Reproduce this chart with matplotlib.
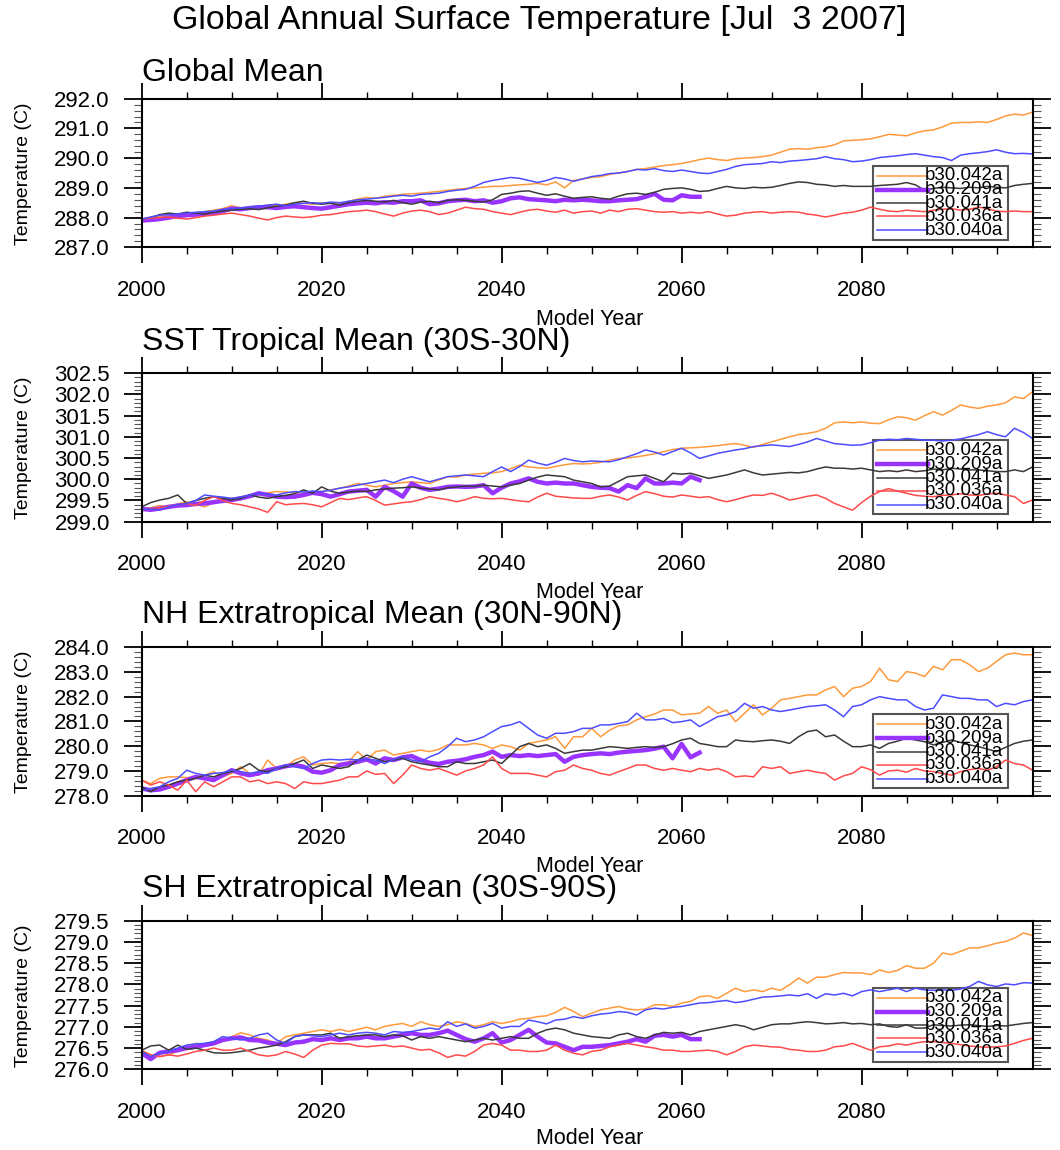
import numpy as np
import matplotlib
matplotlib.use("Agg")
import matplotlib.pyplot as plt
from matplotlib.ticker import MultipleLocator, FormatStrFormatter
from matplotlib.patches import Rectangle

plt.rcParams['font.family'] = ['Liberation Sans', 'DejaVu Sans']

years = np.arange(2000, 2100)
years_209 = np.arange(2000, 2063)

runs = ["b30.042a", "b30.209a", "b30.041a", "b30.036a", "b30.040a"]
colors = ["#ff9a3c", "#9933ff", "#3a3a3a", "#ff4a4a", "#4d4dff"]
widths = [1.1, 3.2, 1.1, 1.1, 1.1]

# ---- Global Mean ----
glob_042 = [287.95, 288.00, 288.05, 288.10, 288.08, 288.15, 288.12, 288.20, 288.25, 288.30,
            288.40, 288.33, 288.30, 288.38, 288.42, 288.40, 288.45, 288.50, 288.48, 288.45,
            288.50, 288.48, 288.45, 288.55, 288.62, 288.68, 288.65, 288.72, 288.75, 288.78,
            288.80, 288.82, 288.85, 288.88, 288.92, 288.95, 288.98, 289.00, 289.02, 289.05,
            289.05, 289.08, 289.10, 289.12, 289.15, 289.10, 289.20, 289.00, 289.25, 289.30,
            289.35, 289.38, 289.45, 289.50, 289.55, 289.62, 289.65, 289.70, 289.75, 289.78,
            289.82, 289.88, 289.95, 290.00, 289.95, 289.92, 289.98, 290.00, 290.02, 290.05,
            290.10, 290.20, 290.30, 290.32, 290.30, 290.35, 290.38, 290.45, 290.58, 290.60,
            290.62, 290.65, 290.72, 290.80, 290.78, 290.75, 290.85, 290.92, 290.95, 291.05,
            291.18, 291.20, 291.20, 291.22, 291.20, 291.30, 291.42, 291.48, 291.45, 291.55]
glob_209 = [287.90, 287.92, 287.95, 288.00, 288.05, 288.08, 288.10, 288.12, 288.15, 288.22,
            288.30, 288.28, 288.32, 288.35, 288.35, 288.32, 288.36, 288.38, 288.35, 288.32,
            288.30, 288.35, 288.40, 288.45, 288.48, 288.50, 288.48, 288.52, 288.50, 288.55,
            288.55, 288.58, 288.45, 288.48, 288.55, 288.58, 288.60, 288.55, 288.58, 288.50,
            288.55, 288.65, 288.68, 288.62, 288.60, 288.58, 288.55, 288.60, 288.58, 288.60,
            288.58, 288.55, 288.55, 288.58, 288.60, 288.62, 288.70, 288.80, 288.60, 288.58,
            288.75, 288.70, 288.70]
glob_041 = [287.95, 288.00, 288.10, 288.15, 288.12, 288.18, 288.15, 288.12, 288.18, 288.22,
            288.25, 288.28, 288.30, 288.27, 288.33, 288.38, 288.42, 288.50, 288.55, 288.48,
            288.45, 288.48, 288.42, 288.50, 288.55, 288.58, 288.55, 288.52, 288.58, 288.50,
            288.45, 288.52, 288.55, 288.50, 288.58, 288.60, 288.58, 288.55, 288.52, 288.60,
            288.78, 288.82, 288.88, 288.90, 288.82, 288.75, 288.80, 288.72, 288.65, 288.68,
            288.70, 288.65, 288.62, 288.72, 288.80, 288.82, 288.78, 288.85, 288.95, 288.98,
            289.00, 288.95, 288.88, 288.90, 288.98, 289.05, 289.00, 288.98, 289.02, 289.00,
            289.02, 289.08, 289.15, 289.20, 289.18, 289.12, 289.10, 289.05, 289.08, 289.05,
            289.05, 289.05, 289.08, 289.10, 289.12, 289.18, 289.10, 288.92, 288.98, 289.02,
            289.00, 288.98, 289.02, 289.00, 289.05, 289.02, 289.00, 289.08, 289.12, 289.15]
glob_036 = [287.95, 287.98, 288.00, 288.02, 287.98, 287.95, 288.00, 288.05, 288.08, 288.12,
            288.15, 288.10, 288.05, 287.98, 287.92, 288.00, 288.05, 288.02, 288.00, 288.03,
            288.08, 288.10, 288.15, 288.20, 288.22, 288.25, 288.20, 288.12, 288.05, 288.15,
            288.22, 288.25, 288.20, 288.10, 288.15, 288.25, 288.35, 288.30, 288.28, 288.20,
            288.15, 288.10, 288.18, 288.25, 288.28, 288.22, 288.18, 288.25, 288.15, 288.20,
            288.22, 288.15, 288.25, 288.20, 288.28, 288.30, 288.25, 288.20, 288.18, 288.20,
            288.15, 288.18, 288.15, 288.20, 288.12, 288.05, 288.08, 288.15, 288.18, 288.20,
            288.15, 288.18, 288.20, 288.18, 288.12, 288.08, 288.02, 288.08, 288.15, 288.18,
            288.25, 288.35, 288.28, 288.22, 288.20, 288.25, 288.22, 288.20, 288.25, 288.28,
            288.30, 288.25, 288.28, 288.35, 288.30, 288.22, 288.20, 288.22, 288.20, 288.20]
glob_040 = [287.95, 288.02, 288.08, 288.10, 288.12, 288.15, 288.18, 288.20, 288.22, 288.28,
            288.30, 288.32, 288.35, 288.38, 288.42, 288.45, 288.40, 288.45, 288.48, 288.50,
            288.48, 288.52, 288.50, 288.55, 288.60, 288.62, 288.65, 288.68, 288.72, 288.75,
            288.72, 288.78, 288.80, 288.82, 288.88, 288.92, 288.95, 289.05, 289.18, 289.25,
            289.30, 289.35, 289.32, 289.25, 289.18, 289.25, 289.35, 289.30, 289.22, 289.30,
            289.38, 289.42, 289.48, 289.50, 289.55, 289.62, 289.60, 289.65, 289.58, 289.55,
            289.60, 289.55, 289.50, 289.48, 289.55, 289.62, 289.72, 289.78, 289.80, 289.82,
            289.88, 289.85, 289.90, 289.92, 289.95, 289.98, 290.05, 289.98, 289.95, 289.88,
            289.90, 289.95, 290.02, 290.05, 290.08, 290.12, 290.15, 290.10, 290.05, 290.02,
            289.92, 290.10, 290.15, 290.18, 290.22, 290.28, 290.20, 290.15, 290.16, 290.14]

# ---- SST Tropical Mean ----
sst_042 = [299.30, 299.33, 299.38, 299.35, 299.42, 299.47, 299.42, 299.35, 299.45, 299.50,
           299.55, 299.58, 299.60, 299.63, 299.68, 299.71, 299.70, 299.68, 299.67, 299.70,
           299.71, 299.75, 299.79, 299.84, 299.90, 299.86, 299.82, 299.86, 299.90, 299.92,
           299.94, 299.92, 299.90, 299.98, 300.06, 300.05, 300.10, 300.12, 300.14, 300.15,
           300.18, 300.25, 300.33, 300.29, 300.27, 300.26, 300.30, 300.34, 300.37, 300.36,
           300.37, 300.40, 300.45, 300.49, 300.50, 300.53, 300.56, 300.60, 300.65, 300.70,
           300.73, 300.74, 300.75, 300.77, 300.79, 300.82, 300.84, 300.80, 300.75, 300.82,
           300.88, 300.94, 301.00, 301.05, 301.08, 301.12, 301.20, 301.33, 301.35, 301.33,
           301.35, 301.32, 301.31, 301.40, 301.47, 301.45, 301.39, 301.50, 301.59, 301.51,
           301.62, 301.75, 301.70, 301.67, 301.72, 301.75, 301.80, 301.94, 301.90, 302.06]
sst_209 = [299.30, 299.28, 299.31, 299.35, 299.38, 299.39, 299.42, 299.43, 299.46, 299.49,
           299.51, 299.55, 299.60, 299.67, 299.63, 299.59, 299.58, 299.59, 299.63, 299.68,
           299.65, 299.59, 299.65, 299.71, 299.73, 299.75, 299.59, 299.82, 299.72, 299.59,
           299.90, 299.80, 299.75, 299.78, 299.82, 299.83, 299.82, 299.83, 299.86, 299.67,
           299.80, 299.90, 299.95, 300.02, 299.94, 299.90, 299.92, 299.90, 299.90, 299.86,
           299.82, 299.80, 299.79, 299.71, 299.86, 299.79, 300.02, 299.90, 299.90, 299.92,
           299.90, 300.06, 299.98]
sst_041 = [299.35, 299.45, 299.51, 299.55, 299.63, 299.43, 299.50, 299.55, 299.59, 299.55,
           299.51, 299.55, 299.63, 299.58, 299.55, 299.59, 299.62, 299.66, 299.75, 299.67,
           299.82, 299.72, 299.67, 299.70, 299.72, 299.71, 299.75, 299.77, 299.79, 299.80,
           299.82, 299.79, 299.77, 299.75, 299.80, 299.82, 299.84, 299.83, 299.86, 299.84,
           299.82, 299.86, 299.90, 299.98, 300.05, 300.10, 300.08, 300.06, 299.98, 299.94,
           299.90, 299.82, 299.84, 299.95, 300.06, 300.08, 300.10, 300.02, 299.94, 300.14,
           300.12, 300.14, 300.08, 300.02, 300.06, 300.10, 300.16, 300.22, 300.15, 300.10,
           300.12, 300.14, 300.16, 300.15, 300.18, 300.24, 300.29, 300.26, 300.26, 300.24,
           300.26, 300.22, 300.18, 300.20, 300.18, 300.22, 300.18, 300.20, 300.24, 300.22,
           300.26, 300.24, 300.22, 300.22, 300.20, 300.18, 300.18, 300.22, 300.18, 300.29]
sst_036 = [299.28, 299.30, 299.33, 299.36, 299.40, 299.43, 299.38, 299.50, 299.59, 299.50,
           299.43, 299.40, 299.35, 299.30, 299.22, 299.47, 299.40, 299.42, 299.43, 299.40,
           299.35, 299.45, 299.55, 299.52, 299.56, 299.59, 299.50, 299.39, 299.42, 299.45,
           299.47, 299.52, 299.59, 299.55, 299.52, 299.47, 299.52, 299.59, 299.55, 299.54,
           299.55, 299.52, 299.49, 299.47, 299.58, 299.67, 299.60, 299.58, 299.56, 299.55,
           299.55, 299.60, 299.63, 299.58, 299.51, 299.62, 299.71, 299.66, 299.60, 299.58,
           299.63, 299.60, 299.57, 299.59, 299.52, 299.47, 299.52, 299.58, 299.63, 299.62,
           299.67, 299.60, 299.51, 299.55, 299.60, 299.63, 299.55, 299.43, 299.35, 299.27,
           299.45, 299.60, 299.71, 299.78, 299.72, 299.67, 299.62, 299.60, 299.59, 299.62,
           299.63, 299.66, 299.63, 299.62, 299.65, 299.67, 299.63, 299.59, 299.43, 299.51]
sst_040 = [299.28, 299.30, 299.28, 299.35, 299.40, 299.43, 299.50, 299.63, 299.60, 299.58,
           299.55, 299.58, 299.62, 299.67, 299.65, 299.63, 299.68, 299.71, 299.70, 299.72,
           299.71, 299.74, 299.79, 299.82, 299.86, 299.90, 299.94, 299.98, 299.92, 300.00,
           300.06, 300.00, 299.94, 300.00, 300.06, 300.08, 300.10, 300.08, 300.06, 300.18,
           300.29, 300.18, 300.30, 300.45, 300.38, 300.33, 300.40, 300.49, 300.44, 300.41,
           300.43, 300.42, 300.41, 300.46, 300.53, 300.60, 300.69, 300.64, 300.57, 300.65,
           300.73, 300.62, 300.49, 300.55, 300.61, 300.65, 300.69, 300.72, 300.77, 300.79,
           300.81, 300.79, 300.77, 300.82, 300.88, 300.96, 300.90, 300.84, 300.82, 300.80,
           300.81, 300.86, 300.92, 300.94, 300.93, 300.96, 300.94, 300.92, 300.92, 300.90,
           300.92, 300.95, 301.00, 301.05, 301.12, 301.05, 301.00, 301.20, 301.10, 300.96]

# ---- NH Extratropical Mean ----
nh_042 = [278.63, 278.49, 278.70, 278.76, 278.76, 278.73, 278.76, 278.83, 278.97, 278.76,
          278.90, 279.17, 278.90, 278.83, 279.44, 279.10, 279.17, 279.44, 279.57, 279.24,
          279.30, 279.33, 279.30, 279.37, 279.78, 279.44, 279.78, 279.84, 279.64, 279.71,
          279.78, 279.84, 279.78, 279.87, 280.05, 280.05, 280.05, 280.11, 280.05, 279.91,
          280.05, 279.98, 279.84, 280.11, 280.18, 280.25, 280.38, 279.91, 280.38, 280.38,
          280.72, 280.38, 280.65, 280.82, 280.86, 281.06, 281.19, 281.30, 281.46, 281.46,
          281.26, 281.30, 281.33, 281.60, 281.33, 281.46, 280.99, 281.33, 281.67, 281.26,
          281.53, 281.87, 281.93, 282.00, 282.07, 282.07, 282.27, 282.41, 282.00, 282.34,
          282.41, 282.61, 283.15, 282.68, 282.61, 283.01, 282.95, 282.81, 283.22, 283.08,
          283.49, 283.49, 283.29, 283.01, 283.15, 283.42, 283.69, 283.76, 283.69, 283.69]
nh_209 = [278.29, 278.22, 278.25, 278.36, 278.49, 278.63, 278.76, 278.70, 278.63, 278.83,
          279.03, 278.90, 278.83, 278.90, 279.03, 279.10, 279.19, 279.24, 279.17, 278.97,
          278.93, 279.03, 279.24, 279.30, 279.37, 279.47, 279.30, 279.51, 279.44, 279.55,
          279.60, 279.44, 279.33, 279.28, 279.37, 279.41, 279.47, 279.57, 279.64, 279.78,
          279.57, 279.64, 279.60, 279.64, 279.60, 279.64, 279.68, 279.37, 279.57, 279.64,
          279.68, 279.71, 279.68, 279.74, 279.78, 279.81, 279.84, 279.90, 279.98, 279.51,
          280.09, 279.55, 279.74]
nh_041 = [278.36, 278.16, 278.36, 278.43, 278.56, 278.63, 278.70, 278.83, 278.76, 278.90,
          278.97, 279.10, 279.30, 279.03, 278.97, 279.10, 279.17, 279.30, 279.44, 279.10,
          279.24, 279.17, 279.10, 279.17, 279.44, 279.64, 279.51, 279.37, 279.44, 279.51,
          279.37, 279.30, 279.24, 279.17, 279.17, 279.37, 279.30, 279.30, 279.37, 279.44,
          279.30, 279.64, 279.98, 280.11, 279.98, 280.05, 279.91, 279.71, 279.78, 279.84,
          279.84, 279.91, 279.98, 279.95, 279.91, 279.95, 279.98, 279.95, 279.98, 280.10,
          280.25, 280.32, 280.11, 280.05, 279.98, 279.98, 280.25, 280.20, 280.18, 280.22,
          280.25, 280.20, 280.11, 280.38, 280.59, 280.65, 280.38, 280.45, 280.20, 279.98,
          279.98, 280.05, 279.91, 280.11, 280.20, 280.32, 280.25, 280.18, 280.05, 280.15,
          280.25, 280.15, 280.05, 279.98, 279.88, 279.78, 279.95, 280.11, 280.20, 280.25]
nh_036 = [278.63, 278.43, 278.56, 278.43, 278.22, 278.63, 278.16, 278.56, 278.36, 278.56,
          278.76, 278.76, 278.56, 278.63, 278.49, 278.56, 278.49, 278.29, 278.56, 278.49,
          278.49, 278.56, 278.63, 278.76, 278.76, 279.00, 278.86, 278.90, 278.49, 278.83,
          279.24, 279.10, 279.03, 279.10, 278.97, 278.83, 279.00, 279.10, 279.24, 279.57,
          279.10, 278.90, 278.90, 278.90, 278.83, 278.76, 278.97, 279.03, 279.24, 279.10,
          279.03, 278.90, 278.83, 278.97, 279.10, 279.24, 279.24, 279.10, 279.03, 279.10,
          279.03, 278.97, 279.10, 279.03, 279.10, 278.97, 278.76, 278.80, 278.76, 279.17,
          279.10, 279.17, 278.90, 278.97, 279.03, 278.95, 278.90, 278.63, 278.80, 278.90,
          279.17, 279.05, 278.83, 279.00, 279.03, 278.95, 279.10, 279.00, 278.97, 278.90,
          278.83, 278.97, 279.05, 279.10, 279.03, 279.17, 279.44, 279.30, 279.24, 279.03]
nh_040 = [278.22, 278.29, 278.36, 278.56, 278.70, 279.03, 278.90, 278.83, 278.90, 278.93,
          279.03, 278.97, 278.90, 278.97, 278.90, 279.10, 279.24, 279.17, 279.10, 279.30,
          279.44, 279.47, 279.44, 279.47, 279.44, 279.47, 279.44, 279.30, 279.47, 279.57,
          279.44, 279.37, 279.57, 279.71, 279.98, 280.32, 280.18, 280.25, 280.38, 280.59,
          280.79, 280.86, 280.99, 280.72, 280.45, 280.32, 280.52, 280.52, 280.59, 280.72,
          280.72, 280.86, 280.86, 280.92, 280.99, 281.33, 281.06, 281.06, 281.12, 280.95,
          280.99, 281.06, 280.79, 280.99, 281.19, 281.26, 281.40, 281.73, 281.53, 281.60,
          281.46, 281.40, 281.46, 281.53, 281.60, 281.63, 281.67, 281.46, 281.19, 281.60,
          281.67, 281.87, 282.00, 281.93, 281.87, 281.87, 281.60, 281.46, 281.53, 282.07,
          282.00, 281.93, 281.93, 281.87, 281.87, 281.60, 281.73, 281.67, 281.80, 281.87]

# ---- SH Extratropical Mean ----
sh_042 = [276.45, 276.34, 276.30, 276.34, 276.42, 276.53, 276.61, 276.57, 276.61, 276.69,
          276.77, 276.86, 276.81, 276.73, 276.69, 276.61, 276.77, 276.81, 276.85, 276.89,
          276.93, 276.89, 276.94, 276.89, 276.94, 276.99, 276.93, 277.01, 277.05, 277.08,
          277.01, 277.12, 277.05, 277.01, 277.05, 277.12, 277.08, 277.01, 277.05, 277.12,
          277.08, 277.12, 277.18, 277.20, 277.24, 277.26, 277.34, 277.46, 277.36, 277.24,
          277.32, 277.40, 277.44, 277.48, 277.42, 277.40, 277.42, 277.52, 277.52, 277.48,
          277.56, 277.60, 277.71, 277.73, 277.67, 277.79, 277.91, 277.83, 277.87, 277.83,
          277.91, 277.86, 277.99, 278.15, 278.03, 278.17, 278.17, 278.23, 278.28, 278.27,
          278.27, 278.23, 278.34, 278.28, 278.33, 278.44, 278.38, 278.38, 278.50, 278.74,
          278.70, 278.78, 278.86, 278.86, 278.91, 278.97, 279.01, 279.09, 279.21, 279.15]
sh_209 = [276.38, 276.24, 276.39, 276.42, 276.45, 276.50, 276.53, 276.57, 276.61, 276.69,
          276.73, 276.75, 276.69, 276.68, 276.63, 276.60, 276.57, 276.63, 276.65, 276.71,
          276.69, 276.73, 276.69, 276.73, 276.73, 276.77, 276.73, 276.73, 276.77, 276.81,
          276.85, 276.81, 276.81, 276.85, 276.91, 276.81, 276.71, 276.65, 276.73, 276.85,
          276.63, 276.69, 276.81, 276.93, 276.77, 276.63, 276.61, 276.53, 276.45, 276.53,
          276.53, 276.55, 276.57, 276.61, 276.65, 276.71, 276.65, 276.79, 276.81, 276.77,
          276.81, 276.71, 276.71]
sh_041 = [276.45, 276.55, 276.57, 276.45, 276.57, 276.47, 276.50, 276.45, 276.39, 276.38,
          276.39, 276.42, 276.45, 276.50, 276.53, 276.57, 276.65, 276.77, 276.81, 276.81,
          276.81, 276.85, 276.73, 276.77, 276.79, 276.81, 276.81, 276.77, 276.81, 276.79,
          276.69, 276.77, 276.73, 276.77, 276.73, 276.69, 276.65, 276.69, 276.73, 276.69,
          276.73, 276.77, 276.73, 276.73, 276.85, 276.93, 276.97, 276.93, 276.85, 276.81,
          276.77, 276.75, 276.73, 276.81, 276.85, 276.77, 276.73, 276.81, 276.87, 276.85,
          276.87, 276.81, 276.89, 276.93, 276.97, 277.01, 277.05, 277.01, 276.93, 276.99,
          277.05, 277.07, 277.07, 277.10, 277.12, 277.10, 277.07, 277.08, 277.10, 277.07,
          277.08, 277.05, 277.07, 277.01, 276.99, 277.05, 276.97, 276.97, 277.05, 277.03,
          277.02, 277.04, 277.05, 277.03, 277.01, 277.03, 277.02, 277.05, 277.08, 277.10]
sh_036 = [276.42, 276.34, 276.30, 276.34, 276.31, 276.36, 276.42, 276.45, 276.50, 276.45,
          276.45, 276.50, 276.42, 276.34, 276.31, 276.34, 276.42, 276.36, 276.28, 276.45,
          276.57, 276.61, 276.60, 276.60, 276.55, 276.53, 276.55, 276.57, 276.53, 276.55,
          276.50, 276.45, 276.47, 276.39, 276.28, 276.34, 276.31, 276.42, 276.57, 276.61,
          276.57, 276.45, 276.45, 276.42, 276.42, 276.45, 276.57, 276.45, 276.38, 276.34,
          276.42, 276.45, 276.53, 276.57, 276.61, 276.57, 276.53, 276.50, 276.45, 276.45,
          276.42, 276.42, 276.44, 276.45, 276.42, 276.34, 276.42, 276.53, 276.57, 276.55,
          276.53, 276.52, 276.47, 276.45, 276.42, 276.42, 276.45, 276.53, 276.55, 276.61,
          276.53, 276.45, 276.53, 276.55, 276.60, 276.57, 276.62, 276.65, 276.65, 276.63,
          276.61, 276.58, 276.55, 276.53, 276.52, 276.53, 276.55, 276.61, 276.68, 276.73]
sh_040 = [276.42, 276.30, 276.38, 276.42, 276.50, 276.57, 276.60, 276.61, 276.65, 276.77,
          276.73, 276.69, 276.73, 276.81, 276.85, 276.69, 276.61, 276.77, 276.81, 276.79,
          276.77, 276.81, 276.85, 276.81, 276.85, 276.87, 276.85, 276.81, 276.89, 276.87,
          276.89, 276.93, 276.97, 276.94, 277.12, 277.01, 277.07, 276.97, 277.01, 277.08,
          276.97, 277.01, 277.01, 277.16, 277.12, 277.07, 277.16, 277.18, 277.24, 277.20,
          277.26, 277.30, 277.32, 277.36, 277.34, 277.28, 277.40, 277.44, 277.42, 277.46,
          277.48, 277.52, 277.56, 277.57, 277.60, 277.62, 277.57, 277.60, 277.65, 277.70,
          277.71, 277.73, 277.75, 277.73, 277.78, 277.67, 277.78, 277.75, 277.79, 277.73,
          277.83, 277.87, 277.83, 277.87, 277.91, 277.83, 277.91, 277.87, 277.86, 277.87,
          277.86, 277.89, 277.95, 278.07, 277.99, 277.95, 278.01, 277.99, 278.04, 278.03]

panels = [
    ("Global Mean", [glob_042, glob_209, glob_041, glob_036, glob_040], (287.0, 292.0), 1.0, 0.2),
    ("SST Tropical Mean (30S-30N)", [sst_042, sst_209, sst_041, sst_036, sst_040], (299.0, 302.5), 0.5, 0.1),
    ("NH Extratropical Mean (30N-90N)", [nh_042, nh_209, nh_041, nh_036, nh_040], (278.0, 284.0), 1.0, 0.2),
    ("SH Extratropical Mean (30S-90S)", [sh_042, sh_209, sh_041, sh_036, sh_040], (276.0, 279.5), 0.5, 0.1),
]

W, H = 1060, 1150
fig = plt.figure(figsize=(W / 100, H / 100), dpi=100)

fig.text(539 / W, 1 - 21 / H, "Global Annual Surface Temperature [Jul  3 2007]",
         ha="center", va="center", fontsize=24.5)

left = 141.7 / W
width = (1032.5 - 141.7) / W
bottoms_px = [247.3, 521.7, 795.7, 1069.3]
title_px = [81, 350, 623, 897]
xlab_px = [320, 593, 867, 1139]
ax_h = 148.6 / H

for i, (title, series, ylim, ymaj, ymin) in enumerate(panels):
    ax = fig.add_axes([left, 1 - bottoms_px[i] / H, width, ax_h])
    for k, vals in enumerate(series):
        xs = years_209 if runs[k] == "b30.209a" else years
        ax.plot(xs, vals, color=colors[k], lw=widths[k], solid_joinstyle="round")

    ax.set_xlim(2000, 2099)
    ax.set_ylim(*ylim)
    ax.xaxis.set_major_locator(MultipleLocator(20))
    ax.xaxis.set_minor_locator(MultipleLocator(5))
    ax.yaxis.set_major_locator(MultipleLocator(ymaj))
    ax.yaxis.set_minor_locator(MultipleLocator(ymin))
    ax.yaxis.set_major_formatter(FormatStrFormatter("%.1f"))

    ax.tick_params(axis="x", which="major", direction="out", length=11.5, width=1.3,
                   top=True, bottom=True, labelsize=16, pad=12)
    ax.tick_params(axis="x", which="minor", direction="out", length=5, width=1.0,
                   top=True, bottom=True)
    ax.tick_params(axis="y", which="major", direction="out", length=13, width=1.3,
                   left=True, right=True, labelsize=16, pad=10)
    ax.tick_params(axis="y", which="minor", direction="out", length=6, width=0.8,
                   left=True, right=True, color="#555555")
    for sp in ax.spines.values():
        sp.set_linewidth(1.5)

    fig.text(left, 1 - title_px[i] / H, title, ha="left", va="baseline", fontsize=23)
    fig.text(590 / W, 1 - xlab_px[i] / H, "Model Year", ha="center", va="center", fontsize=15.5)
    fig.text(24 / W, 1 - (bottoms_px[i] - 74) / H, "Temperature (C)", rotation=90,
             ha="center", va="center", fontsize=14)

    # legend drawn by hand so that rows can overlap like the original
    ax.add_patch(Rectangle((0.821, 0.05), 0.151, 0.50, transform=ax.transAxes,
                           fill=False, edgecolor="#555555", lw=1.5, clip_on=False))
    row_y = [0.48, 0.388, 0.296, 0.208, 0.115]
    for k, name in enumerate(runs):
        ax.plot([0.8255, 0.883], [row_y[k], row_y[k]], transform=ax.transAxes,
                color=colors[k], lw=widths[k], clip_on=False)
        ax.text(0.879, row_y[k], name, transform=ax.transAxes, ha="left", va="center",
                fontsize=13.5)

fig.savefig("out.png", dpi=100)
